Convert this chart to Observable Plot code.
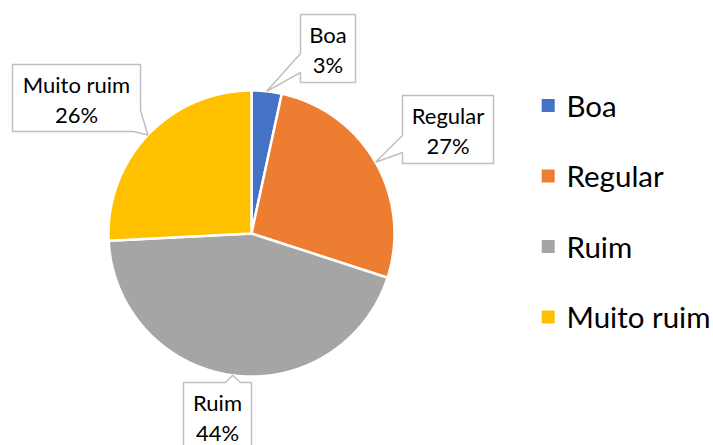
<!DOCTYPE html>
<html>
<head>
<meta charset="utf-8">
<script src="https://cdn.jsdelivr.net/npm/d3@7"></script>
<script src="https://cdn.jsdelivr.net/npm/@observablehq/plot@0.6"></script>
<style>
  html, body { margin: 0; padding: 0; background: #fff; }
  #chart svg { display: block; }
</style>
</head>
<body>
<div id="chart"></div>
<script>
// ---- data ----
const categories = ["Boa", "Regular", "Ruim", "Muito ruim"];
const values = [3.4, 26.6, 44.2, 25.8];
const percentLabels = ["3%", "27%", "44%", "26%"];
const colors = ["#4472C4", "#ED7D31", "#A5A5A5", "#FFC000"];

// ---- layout ----
const W = 713, H = 445;
const CX = 251, CY = 233, R = 143;
const boxFont = 22, legendFont = 29.5;
const labelBoxes = [
  {box: [300, 14, 355, 82], side: "left", a: 72, b: 53},
  {box: [402, 95, 493, 163], side: "left", a: 152, b: 135},
  {box: [183, 382, 251, 452], side: "top", a: 225, b: 240},
  {box: [12, 64, 140, 131], side: "corner", a: 110, b: 133}
];
const legendX = 541.7, legendY0 = 105.5, legendDY = 70.5, legendSq = 13, legendTextX = 566;

// ---- derived ----
const data = categories.map((key, i) => ({key, value: values[i], label: percentLabels[i]}));
const arcs = d3.pie().sort(null).value(d => d.value)(data);
const pt = (a, r = R) => [CX + r * Math.sin(a), CY - r * Math.cos(a)];

const slicePts = [];
arcs.forEach(s => {
  const key = s.data.key;
  slicePts.push({key, x: CX, y: CY});
  const n = Math.max(2, Math.ceil((s.endAngle - s.startAngle) / 0.01));
  for (let i = 0; i <= n; i++) {
    const [x, y] = pt(s.startAngle + (s.endAngle - s.startAngle) * i / n);
    slicePts.push({key, x, y});
  }
  slicePts.push({key, x: CX, y: CY});
});

const calloutPts = [];
const textRows = [];
arcs.forEach((s, i) => {
  const key = s.data.key;
  const L = labelBoxes[i];
  const [x1, y1, x2, y2] = L.box;
  const tip = pt((s.startAngle + s.endAngle) / 2);
  let poly;
  if (L.side === "left") {
    poly = [[x1, y1], [x2, y1], [x2, y2], [x1, y2], [x1, L.a], tip, [x1, L.b], [x1, y1]];
  } else if (L.side === "top") {
    poly = [[x1, y1], [L.a, y1], tip, [L.b, y1], [x2, y1], [x2, y2], [x1, y2], [x1, y1]];
  } else {
    poly = [[x1, y1], [x2, y1], [x2, L.a], tip, [L.b, y2], [x1, y2], [x1, y1]];
  }
  poly.forEach(([x, y]) => calloutPts.push({key, x, y}));
  const cx = (x1 + x2) / 2;
  textRows.push({x: cx, y: y1 + 28, text: key});
  textRows.push({x: cx, y: y1 + 58, text: s.data.label});
});

const legendRows = categories.map((key, i) => ({
  key,
  y: legendY0 + i * legendDY
}));

const chart = Plot.plot({
  width: W,
  height: H,
  margin: 0,
  x: {domain: [0, W], range: [0, W], axis: null},
  y: {domain: [0, H], range: [0, H], axis: null},
  color: {domain: categories, range: colors},
  style: {fontFamily: "Lato, 'Open Sans', sans-serif", background: "#fff", overflow: "hidden"},
  marks: [
    Plot.line(slicePts, {x: "x", y: "y", z: "key", fill: "key", stroke: "white", strokeWidth: 2.5, strokeLinejoin: "miter"}),
    Plot.line(calloutPts, {x: "x", y: "y", z: "key", fill: "white", stroke: "#BFBFBF", strokeWidth: 1.5, strokeLinejoin: "miter"}),
    Plot.text(textRows, {x: "x", y: "y", text: "text", fontSize: boxFont, lineAnchor: "bottom", fill: "#000"}),
    Plot.rect(legendRows, {x1: () => legendX, x2: () => legendX + legendSq, y1: d => d.y - legendSq / 2, y2: d => d.y + legendSq / 2, fill: "key"}),
    Plot.text(legendRows, {x: () => legendTextX, y: d => d.y + 10.5, text: "key", textAnchor: "start", lineAnchor: "bottom", fontSize: legendFont, fill: "#000"})
  ]
});
document.getElementById("chart").appendChild(chart);
</script>
</body>
</html>
